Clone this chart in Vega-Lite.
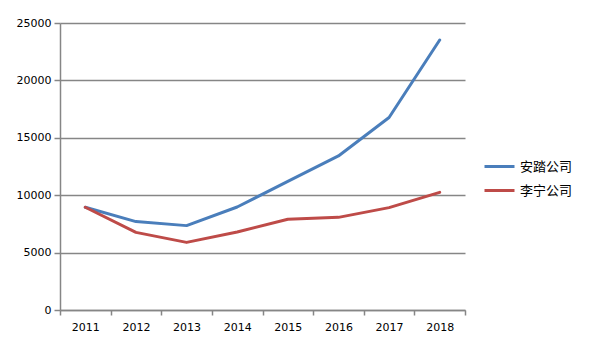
{
  "$schema": "https://vega.github.io/schema/vega-lite/v6.json",
  "width": 405,
  "height": 287,
  "autosize": {"type": "none"},
  "padding": {"left": 60, "top": 23, "right": 125, "bottom": 43},
  "background": "white",
  "config": {
    "view": {"stroke": null},
    "font": "DejaVu Sans"
  },
  "data": {
    "values": [
      {"year": "2011", "company": "安踏公司", "revenue": 8950},
      {"year": "2012", "company": "安踏公司", "revenue": 7700},
      {"year": "2013", "company": "安踏公司", "revenue": 7350},
      {"year": "2014", "company": "安踏公司", "revenue": 8970},
      {"year": "2015", "company": "安踏公司", "revenue": 11200},
      {"year": "2016", "company": "安踏公司", "revenue": 13420},
      {"year": "2017", "company": "安踏公司", "revenue": 16770},
      {"year": "2018", "company": "安踏公司", "revenue": 23520},
      {"year": "2011", "company": "李宁公司", "revenue": 8950},
      {"year": "2012", "company": "李宁公司", "revenue": 6760},
      {"year": "2013", "company": "李宁公司", "revenue": 5890},
      {"year": "2014", "company": "李宁公司", "revenue": 6790},
      {"year": "2015", "company": "李宁公司", "revenue": 7900},
      {"year": "2016", "company": "李宁公司", "revenue": 8070},
      {"year": "2017", "company": "李宁公司", "revenue": 8920},
      {"year": "2018", "company": "李宁公司", "revenue": 10250}
    ]
  },
  "mark": {"type": "line", "strokeWidth": 3, "strokeCap": "round", "strokeJoin": "round"},
  "encoding": {
    "x": {
      "field": "year",
      "type": "ordinal",
      "bandPosition": 0.5,
      "scale": {"type": "band", "paddingInner": 0, "paddingOuter": 0},
      "axis": {
        "title": null,
        "labelAngle": 0,
        "tickBand": "extent",
        "domainColor": "#868686",
        "domainWidth": 1.5,
        "tickColor": "#868686",
        "tickWidth": 1.5,
        "tickSize": 5,
        "labelPadding": 6,
        "labelFontSize": 11,
        "labelColor": "#000000",
        "grid": false
      }
    },
    "y": {
      "field": "revenue",
      "type": "quantitative",
      "scale": {"domain": [0, 25000], "nice": false},
      "axis": {
        "title": null,
        "format": "d",
        "values": [0, 5000, 10000, 15000, 20000, 25000],
        "grid": true,
        "gridColor": "#868686",
        "gridWidth": 1.5,
        "domainColor": "#868686",
        "domainWidth": 1.5,
        "tickColor": "#868686",
        "tickWidth": 1.5,
        "tickSize": 6,
        "labelPadding": 3,
        "labelFontSize": 11,
        "labelColor": "#000000"
      }
    },
    "color": {
      "field": "company",
      "type": "nominal",
      "scale": {"domain": ["安踏公司", "李宁公司"], "range": ["#4A7EBB", "#BE4B48"]},
      "legend": {
        "title": null,
        "orient": "none",
        "legendX": 423,
        "legendY": 127,
        "symbolType": "stroke",
        "symbolSize": 900,
        "symbolStrokeWidth": 3,
        "labelFont": "Noto Sans CJK SC",
        "labelFontSize": 13,
        "labelColor": "#000000",
        "labelOffset": 4,
        "rowPadding": -8
      }
    }
  }
}
